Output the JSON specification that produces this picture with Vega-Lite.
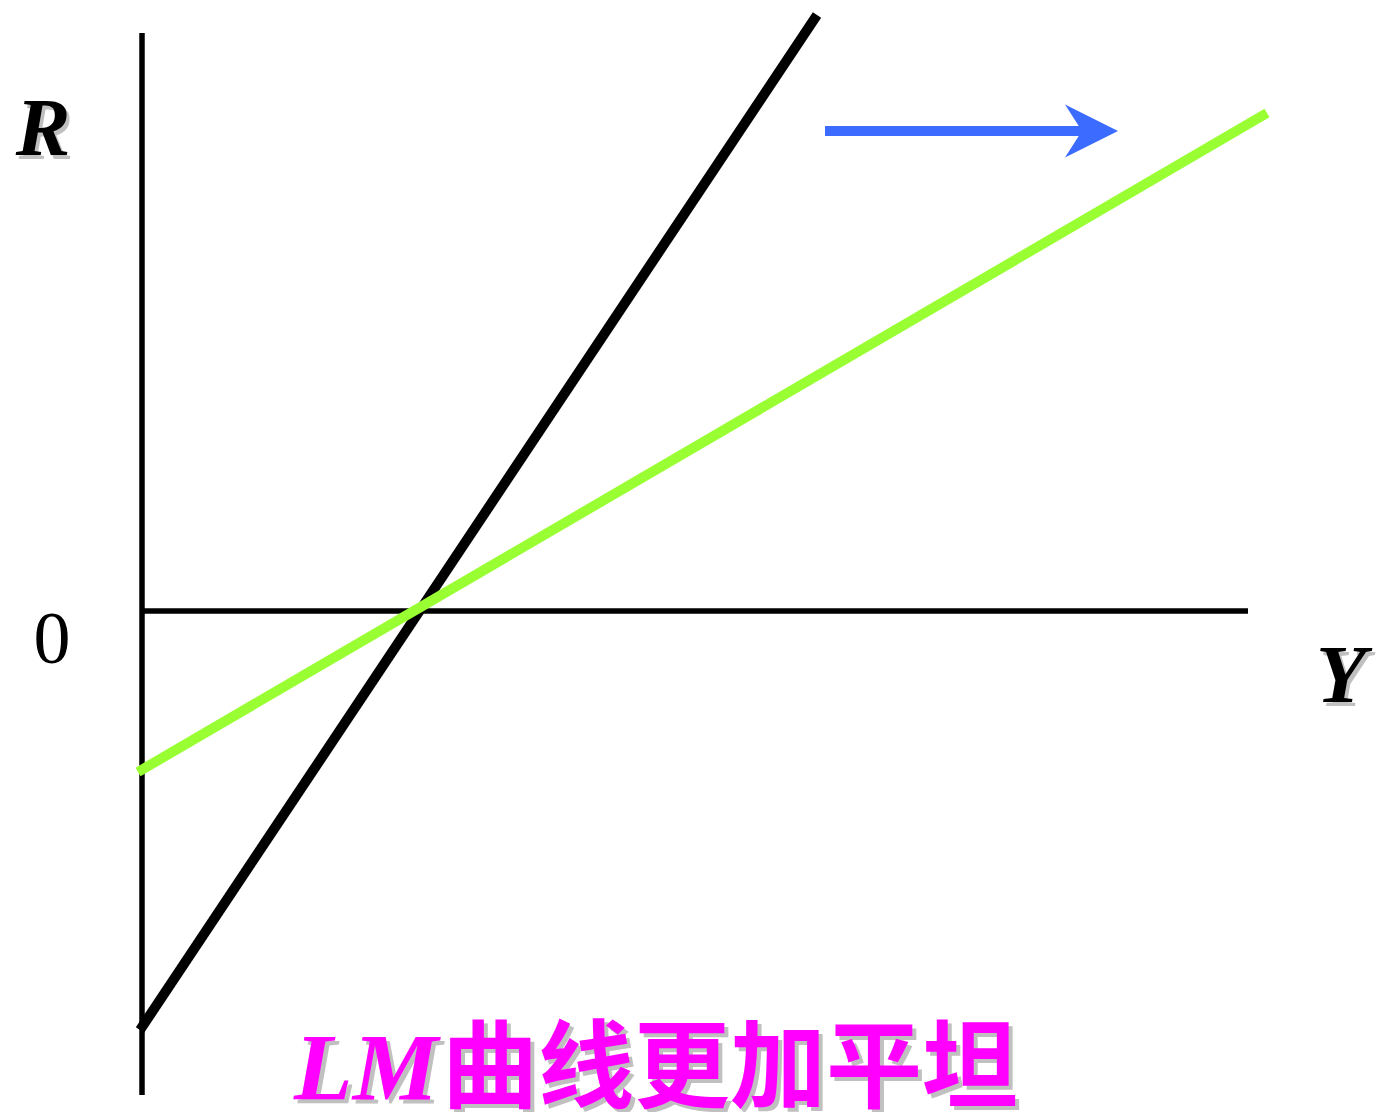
{
  "$schema": "https://vega.github.io/schema/vega-lite/v6.json",
  "width": 1378,
  "height": 1112,
  "autosize": {"type": "none"},
  "padding": 0,
  "background": "white",
  "config": {"view": {"stroke": null}},
  "datasets": {
    "axes": [
      {"name": "vertical", "x": 0, "y": 5.78},
      {"name": "vertical", "x": 0, "y": -4.84},
      {"name": "horizontal", "x": 0, "y": 0},
      {"name": "horizontal", "x": 11.06, "y": 0}
    ],
    "lm_old": [
      {"x": -0.02, "y": -4.19},
      {"x": 6.75, "y": 5.96}
    ],
    "lm_new": [
      {"x": -0.04, "y": -1.61},
      {"x": 11.25, "y": 4.98}
    ],
    "arrow": [
      {"x": 6.83, "y": 4.8},
      {"x": 9.43, "y": 4.8}
    ],
    "arrowhead": [{"x": 9.495, "y": 4.8}],
    "labels": [
      {"text": "R", "x": -0.99, "y": 4.56},
      {"text": "Y", "x": 11.99, "y": -0.91}
    ],
    "zero": [{"text": "0", "x": -0.9, "y": -0.52}],
    "cap_lm": [{"text": "LM", "x": 2.96, "y": -4.89}],
    "cap_cn": [{"text": "曲线更加平坦", "x": 3.0, "y": -4.89}]
  },
  "encoding": {
    "x": {"field": "x", "type": "quantitative", "scale": {"domain": [-1.42, 12.36], "nice": false, "zero": false}, "axis": null},
    "y": {"field": "y", "type": "quantitative", "scale": {"domain": [-5.01, 6.11], "nice": false, "zero": false}, "axis": null}
  },
  "layer": [
    {
      "data": {"name": "axes"},
      "mark": {"type": "line", "color": "black", "strokeWidth": 5.5, "strokeCap": "butt"},
      "encoding": {"detail": {"field": "name"}}
    },
    {
      "data": {"name": "lm_old"},
      "mark": {"type": "line", "color": "black", "strokeWidth": 10, "strokeCap": "butt"},
      "encoding": {}
    },
    {
      "data": {"name": "lm_new"},
      "mark": {"type": "line", "color": "#99FF33", "strokeWidth": 10, "strokeCap": "butt"},
      "encoding": {}
    },
    {
      "data": {"name": "arrow"},
      "mark": {"type": "line", "color": "#3B6BFF", "strokeWidth": 10, "strokeCap": "butt"},
      "encoding": {}
    },
    {
      "data": {"name": "arrowhead"},
      "mark": {"type": "point", "filled": true, "color": "#3B6BFF", "opacity": 1, "size": 2809, "shape": "M-1,-1L1,0L-1,1L-0.36,0Z"}
    },
    {
      "data": {"name": "labels"},
      "mark": {"type": "text", "font": "Liberation Serif", "fontStyle": "italic", "fontWeight": "bold", "fontSize": 82, "align": "center", "baseline": "alphabetic", "color": "#C0C0C0", "dx": 3, "dy": 4},
      "encoding": {"text": {"field": "text"}}
    },
    {
      "data": {"name": "labels"},
      "mark": {"type": "text", "font": "Liberation Serif", "fontStyle": "italic", "fontWeight": "bold", "fontSize": 82, "align": "center", "baseline": "alphabetic", "color": "black"},
      "encoding": {"text": {"field": "text"}}
    },
    {
      "data": {"name": "zero"},
      "mark": {"type": "text", "font": "Liberation Serif", "fontSize": 74, "align": "center", "baseline": "alphabetic", "color": "black"},
      "encoding": {"text": {"field": "text"}}
    },
    {
      "data": {"name": "cap_lm"},
      "mark": {"type": "text", "font": "Liberation Serif", "fontStyle": "italic", "fontWeight": "bold", "fontSize": 96, "align": "right", "baseline": "alphabetic", "color": "#C0C0C0", "dx": 4, "dy": 4},
      "encoding": {"text": {"field": "text"}}
    },
    {
      "data": {"name": "cap_lm"},
      "mark": {"type": "text", "font": "Liberation Serif", "fontStyle": "italic", "fontWeight": "bold", "fontSize": 96, "align": "right", "baseline": "alphabetic", "color": "#FF00FF"},
      "encoding": {"text": {"field": "text"}}
    },
    {
      "data": {"name": "cap_cn"},
      "mark": {"type": "text", "font": "Noto Sans CJK SC", "fontWeight": "bold", "fontSize": 96, "align": "left", "baseline": "alphabetic", "color": "#C0C0C0", "dx": 4, "dy": 4},
      "encoding": {"text": {"field": "text"}}
    },
    {
      "data": {"name": "cap_cn"},
      "mark": {"type": "text", "font": "Noto Sans CJK SC", "fontWeight": "bold", "fontSize": 96, "align": "left", "baseline": "alphabetic", "color": "#FF00FF"},
      "encoding": {"text": {"field": "text"}}
    }
  ]
}
